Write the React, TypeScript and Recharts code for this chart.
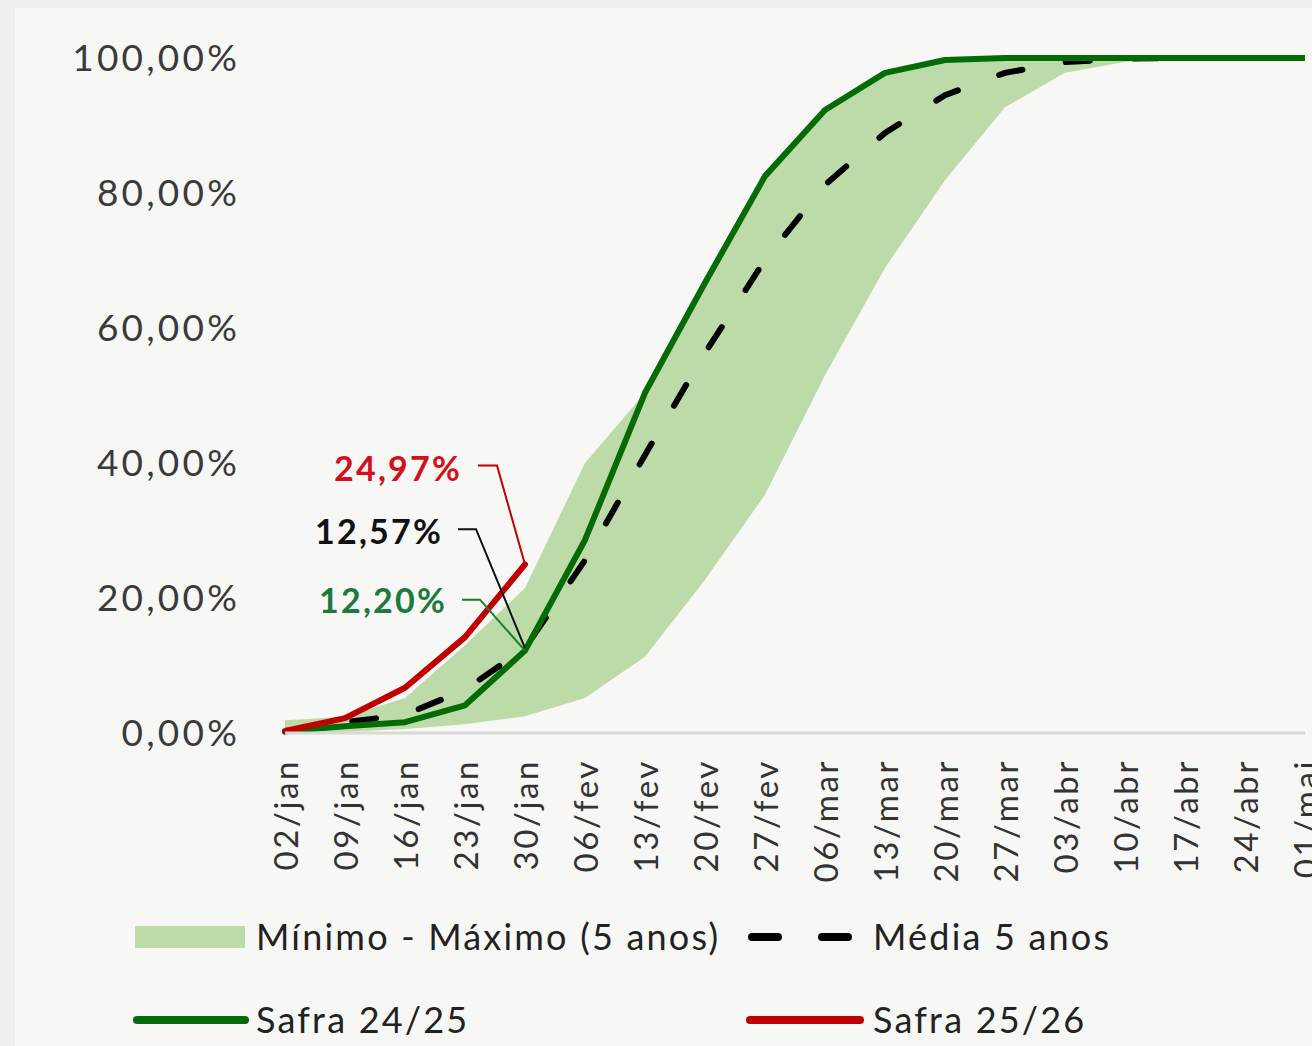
import React from 'react';
import { ComposedChart, Area, Line, XAxis, YAxis } from 'recharts';

const categories = ['02/jan', '09/jan', '16/jan', '23/jan', '30/jan', '06/fev', '13/fev', '20/fev', '27/fev', '06/mar', '13/mar', '20/mar', '27/mar', '03/abr', '10/abr', '17/abr', '24/abr', '01/mai'];
const minValues = [0, 0.2, 0.6, 1.3, 2.5, 5.2, 11.3, 22.7, 35.3, 53.0, 68.9, 81.9, 92.7, 97.8, 99.4, 100, 100, 100];
const maxValues = [1.9, 2.4, 5.2, 13.0, 21.5, 40.0, 50.4, 66.7, 82.5, 92.3, 97.8, 99.7, 100, 100, 100, 100, 100, 100];
const mediaValues = [0.2, 1.6, 2.7, 6.4, 12.57, 25.6, 41.2, 56.3, 70.1, 81.2, 88.9, 94.5, 97.8, 99.4, 99.9, 100, 100, 100];
const safra2425 = [0.3, 1.0, 1.6, 4.1, 12.2, 28.6, 50.4, 66.7, 82.5, 92.3, 97.8, 99.7, 100, 100, 100, 100, 100, 100];
const safra2526: (number | null)[] = [0.3, 2.2, 6.7, 14.2, 24.97, null, null, null, null, null, null, null, null, null, null, null, null, null];
const yTicks = [0, 20, 40, 60, 80, 100];

const data = categories.map((c, i) => ({
  cat: c,
  range: [minValues[i], maxValues[i]],
  media: mediaValues[i],
  s2425: safra2425[i],
  s2526: safra2526[i],
}));

const BAND = '#bddba9';
const GREEN = '#056b05';
const RED = '#c00000';
const FONT = 'Lato, "Open Sans", sans-serif';

const fmtPct = (v: number) => v.toFixed(2).replace('.', ',') + '%';

const XTick = (props: any) => {
  const { x, y, payload } = props;
  return (
    <text x={x} y={y} transform={`rotate(-90, ${x}, ${y})`} textAnchor="end" dominantBaseline="central"
      fontSize={33} fill="#333" fontFamily={FONT} letterSpacing={2.6}>{payload.value}</text>
  );
};

const YTick = (props: any) => {
  const { x, y, payload } = props;
  return (
    <text x={x} y={y - 2} textAnchor="end" dominantBaseline="central" fontSize={37} fill="#3a3a3a"
      fontFamily={FONT} letterSpacing={3.2}>{fmtPct(payload.value)}</text>
  );
};

const makeLabel = (color: string, textColor: string, tdx: number, tdy: number, path: number[][]) => (props: any) => {
  const { x, y, index, value } = props;
  if (index !== 4 || value == null) return null;
  const d = path.map((p, i) => `${i === 0 ? 'M' : 'L'}${x + p[0]},${y + p[1]}`).join(' ') + ` L${x},${y}`;
  return (
    <g>
      <path d={d} stroke={color} strokeWidth={2} fill="none" />
      <text x={x + tdx} y={y + tdy} textAnchor="end" dominantBaseline="central" fontSize={34} fontWeight={700}
        fill={textColor} fontFamily={FONT} letterSpacing={2.2}>{fmtPct(value)}</text>
    </g>
  );
};

const redLabel = makeLabel(RED, '#d0101a', -63, -97, [[-47, -99], [-28, -99]]);
const blackLabel = makeLabel('#111', '#111', -82, -118, [[-67, -119], [-49, -119]]);
const greenLabel = makeLabel('#1f7d2c', '#1b7a3c', -78, -51, [[-63, -51], [-45, -51]]);

const legendText: React.CSSProperties = {
  position: 'absolute', fontFamily: FONT, fontSize: 36, color: '#222', lineHeight: '40px', whiteSpace: 'nowrap',
  letterSpacing: 2.2,
};

export default function App() {
  return (
    <div style={{ position: 'absolute', left: 0, top: 0, width: 1312, height: 1046, overflow: 'hidden', background: '#efefef' }}>
      <div style={{ position: 'absolute', left: 15, top: 8, right: 0, bottom: 0, background: '#f7f7f5' }} />
      <div style={{ position: 'absolute', left: 0, top: 0 }}>
        <ComposedChart width={1360} height={900} data={data} margin={{ top: 58, right: 55, bottom: 27, left: 0 }}>
          <XAxis dataKey="cat" scale="point" padding={{ left: 0, right: 0 }} interval={0} tickLine={false}
            axisLine={{ stroke: '#d8d8d8', strokeWidth: 3 }} tick={<XTick />} tickSize={6} tickMargin={20} height={140} />
          <YAxis type="number" domain={[0, 100]} ticks={yTicks} axisLine={false} tickLine={false} width={285}
            tick={<YTick />} tickSize={6} tickMargin={39} />
          <Area dataKey="range" type="linear" stroke="none" fill={BAND} fillOpacity={1} isAnimationActive={false} />
          <Line dataKey="media" type="linear" stroke="#000" strokeWidth={6} strokeDasharray="24 44" strokeLinecap="round"
            dot={false} isAnimationActive={false} label={blackLabel} />
          <Line dataKey="s2425" type="linear" stroke={GREEN} strokeWidth={6} dot={false} isAnimationActive={false}
            label={greenLabel} strokeLinejoin="round" />
          <Line dataKey="s2526" type="linear" stroke={RED} strokeWidth={6} dot={false} isAnimationActive={false}
            label={redLabel} strokeLinecap="round" strokeLinejoin="round" />
        </ComposedChart>
      </div>
      {/* legend */}
      <div style={{ position: 'absolute', left: 135, top: 926, width: 110, height: 22, background: BAND }} />
      <div style={{ ...legendText, left: 256, top: 916 }}>Mínimo - Máximo (5 anos)</div>
      <svg style={{ position: 'absolute', left: 740, top: 925 }} width={120} height={24}>
        <line x1={12} y1={12} x2={112} y2={12} stroke="#000" strokeWidth={8} strokeDasharray="26 44" strokeLinecap="round" />
      </svg>
      <div style={{ ...legendText, left: 873, top: 916 }}>Média 5 anos</div>
      <svg style={{ position: 'absolute', left: 130, top: 1008 }} width={125} height={24}>
        <line x1={7} y1={12} x2={115} y2={12} stroke={GREEN} strokeWidth={8} strokeLinecap="round" />
      </svg>
      <div style={{ ...legendText, left: 256, top: 999 }}>Safra 24/25</div>
      <svg style={{ position: 'absolute', left: 743, top: 1008 }} width={125} height={24}>
        <line x1={7} y1={12} x2={117} y2={12} stroke={RED} strokeWidth={8} strokeLinecap="round" />
      </svg>
      <div style={{ ...legendText, left: 873, top: 999 }}>Safra 25/26</div>
    </div>
  );
}
